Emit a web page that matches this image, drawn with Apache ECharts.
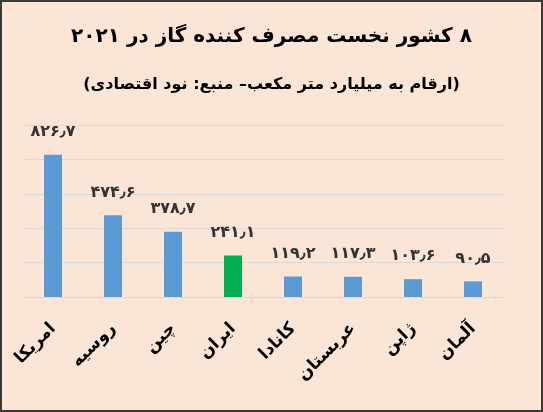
<!DOCTYPE html>
<html>
<head>
<meta charset="utf-8">
<script src="https://cdn.jsdelivr.net/npm/echarts@6/dist/echarts.min.js"></script>
<style>
  html, body { margin: 0; padding: 0; background: #fbe5d6; }
  #chart {
    width: 543px;
    height: 412px;
    box-sizing: border-box;
    border: 2px solid #3a3a3a;
  }
</style>
</head>
<body>
<div id="chart" dir="rtl"></div>
<script>
// کشورها و مصرف گاز (میلیارد متر مکعب)
var countries = ['امریکا', 'روسیه', 'چین', 'ایران', 'کانادا', 'عربستان', 'ژاپن', 'آلمان'];
var consumption = [826.7, 474.6, 378.7, 241.1, 119.2, 117.3, 103.6, 90.5];
var valueLabels = ['۸۲۶٫۷', '۴۷۴٫۶', '۳۷۸٫۷', '۲۴۱٫۱', '۱۱۹٫۲', '۱۱۷٫۳', '۱۰۳٫۶', '۹۰٫۵'];
var highlight = 'ایران';

var titleText = '۸ کشور نخست مصرف کننده گاز در ۲۰۲۱';
var subText = '(ارقام به میلیارد متر مکعب– منبع: نود اقتصادی)';

var fontName = 'DejaVu Sans';

var chart = echarts.init(document.getElementById('chart'));

var data = consumption.map(function (v, i) {
  return {
    value: v,
    itemStyle: { color: countries[i] === highlight ? '#00b050' : '#5b9bd5' }
  };
});

var option = {
  backgroundColor: '#fbe5d6',
  animation: false,
  title: {
    text: titleText,
    subtext: subText,
    left: 'center',
    top: 20,
    itemGap: 30,
    textStyle: { fontFamily: fontName, fontWeight: 'bold', fontSize: 20, color: '#000' },
    subtextStyle: { fontFamily: fontName, fontWeight: 'bold', fontSize: 16, color: '#000' }
  },
  grid: { left: 21, right: 38, top: 123, bottom: 113 },
  xAxis: {
    type: 'category',
    data: countries,
    axisLine: { lineStyle: { color: '#d9d9d9' } },
    axisTick: { show: false },
    axisLabel: {
      rotate: 45,
      margin: 29,
      interval: 0,
      fontFamily: fontName,
      fontWeight: 'bold',
      fontSize: 17,
      color: '#000'
    }
  },
  yAxis: {
    type: 'value',
    min: 0,
    max: 1000,
    interval: 200,
    axisLabel: { show: false },
    axisLine: { show: false },
    axisTick: { show: false },
    splitLine: { lineStyle: { color: '#d9d9d9' } }
  },
  series: [{
    type: 'bar',
    data: data,
    barWidth: 18,
    label: {
      show: true,
      position: 'top',
      distance: 15,
      fontFamily: fontName,
      fontWeight: 'bold',
      fontSize: 16,
      color: '#333',
      formatter: function (p) { return valueLabels[p.dataIndex]; }
    }
  }]
};

chart.setOption(option);
</script>
</body>
</html>
